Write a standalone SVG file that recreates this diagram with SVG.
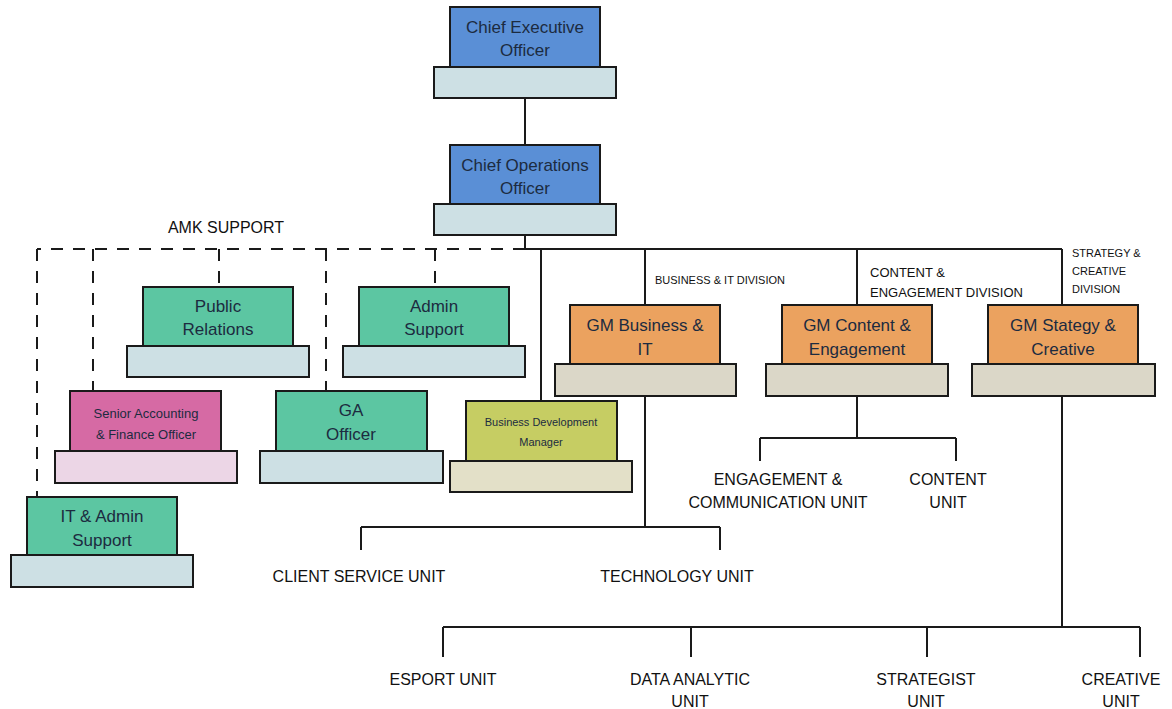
<svg xmlns="http://www.w3.org/2000/svg" width="1172" height="709" viewBox="0 0 1172 709">
<style>
.top{stroke:#1a1a1a;stroke-width:2}
.base{stroke:#1a1a1a;stroke-width:2}
.blue{fill:#5a8fd6}
.green{fill:#5cc6a2}
.orange{fill:#eba25f}
.pink{fill:#d66aa4}
.olive{fill:#c6cd63}
.lb{fill:#cde0e4}
.bg{fill:#dbd7c8}
.lp{fill:#ecd6e6}
.lo{fill:#e3e0c8}
.t{font-family:"Liberation Sans",Arial,sans-serif;font-size:17px;fill:#1c2b40;text-anchor:middle}
.ts{font-family:"Liberation Sans",Arial,sans-serif;font-size:13px;fill:#1c2b40;text-anchor:middle}
.tx{font-family:"Liberation Sans",Arial,sans-serif;font-size:11px;fill:#1c2b40;text-anchor:middle}
.l{font-family:"Liberation Sans",Arial,sans-serif;font-size:16px;fill:#111;text-anchor:middle}
.d{font-family:"Liberation Sans",Arial,sans-serif;font-size:11px;fill:#111}
.d2{font-family:"Liberation Sans",Arial,sans-serif;font-size:13px;fill:#111}
.c{stroke:#1a1a1a;stroke-width:2;fill:none}
.dash{stroke:#1a1a1a;stroke-width:2;fill:none;stroke-dasharray:12 10}
</style>
<rect width="1172" height="709" fill="#ffffff"/>
<g id="connectors">
<path class="c" d="M525 98V145M525 235V249M525 249H1062M645 249V305M857 249V305M1062 249V305M541 249V401"/>
<path class="dash" d="M525 249H37M37 249V497M93 249V391M219 249V287M326 249V391M435 249V287"/>
<path class="c" d="M645 396V527M361 527H720M361 527V550M720 527V550"/>
<path class="c" d="M857 396V438M760 438H956M760 438V461M956 438V461"/>
<path class="c" d="M1062 396V627M443 627H1140M443 627V657M691 627V657M927 627V657M1140 627V657"/>
</g>
<g id="labels">
<text class="l" x="226" y="233">AMK SUPPORT</text>
<text class="d" x="655" y="284">BUSINESS &amp; IT DIVISION</text>
<text class="d2" x="870" y="277">CONTENT &amp;</text>
<text class="d2" x="870" y="297">ENGAGEMENT DIVISION</text>
<text class="d" x="1072" y="257">STRATEGY &amp;</text>
<text class="d" x="1072" y="275">CREATIVE</text>
<text class="d" x="1072" y="293">DIVISION</text>
</g>
<g id="ceo">
<rect class="top blue" x="450" y="7" width="150" height="60"/>
<rect class="base lb" x="434" y="67" width="182" height="31"/>
<text class="t" x="525" y="33">Chief Executive</text>
<text class="t" x="525" y="56">Officer</text>
</g>
<g id="coo">
<rect class="top blue" x="450" y="145" width="150" height="59"/>
<rect class="base lb" x="434" y="204" width="182" height="31"/>
<text class="t" x="525" y="171">Chief Operations</text>
<text class="t" x="525" y="194">Officer</text>
</g>
<g id="public-relations">
<rect class="top green" x="143" y="287" width="150" height="59"/>
<rect class="base lb" x="127" y="346" width="182" height="31"/>
<text class="t" x="218" y="312">Public</text>
<text class="t" x="218" y="335">Relations</text>
</g>
<g id="admin-support">
<rect class="top green" x="359" y="287" width="150" height="59"/>
<rect class="base lb" x="343" y="346" width="182" height="31"/>
<text class="t" x="434" y="312">Admin</text>
<text class="t" x="434" y="335">Support</text>
</g>
<g id="senior-accounting">
<rect class="top pink" x="70" y="391" width="151" height="60"/>
<rect class="base lp" x="55" y="451" width="182" height="32"/>
<text class="ts" x="146" y="418">Senior Accounting</text>
<text class="ts" x="146" y="439">&amp; Finance Officer</text>
</g>
<g id="ga-officer">
<rect class="top green" x="276" y="391" width="151" height="60"/>
<rect class="base lb" x="260" y="451" width="183" height="32"/>
<text class="t" x="351" y="416">GA</text>
<text class="t" x="351" y="440">Officer</text>
</g>
<g id="business-development">
<rect class="top olive" x="466" y="401" width="151" height="60"/>
<rect class="base lo" x="450" y="461" width="182" height="31"/>
<text class="tx" x="541" y="426">Business Development</text>
<text class="tx" x="541" y="446">Manager</text>
</g>
<g id="it-admin">
<rect class="top green" x="27" y="497" width="150" height="58"/>
<rect class="base lb" x="11" y="555" width="182" height="32"/>
<text class="t" x="102" y="522">IT &amp; Admin</text>
<text class="t" x="102" y="546">Support</text>
</g>
<g id="gm-business">
<rect class="top orange" x="570" y="305" width="150" height="59"/>
<rect class="base bg" x="555" y="364" width="181" height="32"/>
<text class="t" x="645" y="331">GM Business &amp;</text>
<text class="t" x="645" y="355">IT</text>
</g>
<g id="gm-content">
<rect class="top orange" x="782" y="305" width="150" height="59"/>
<rect class="base bg" x="766" y="364" width="182" height="32"/>
<text class="t" x="857" y="331">GM Content &amp;</text>
<text class="t" x="857" y="355">Engagement</text>
</g>
<g id="gm-strategy">
<rect class="top orange" x="988" y="305" width="150" height="59"/>
<rect class="base bg" x="972" y="364" width="183" height="32"/>
<text class="t" x="1063" y="331">GM Stategy &amp;</text>
<text class="t" x="1063" y="355">Creative</text>
</g>
<g id="units">
<text class="l" x="359" y="582">CLIENT SERVICE UNIT</text>
<text class="l" x="677" y="582">TECHNOLOGY UNIT</text>
<text class="l" x="778" y="485">ENGAGEMENT &amp;</text>
<text class="l" x="778" y="508">COMMUNICATION UNIT</text>
<text class="l" x="948" y="485">CONTENT</text>
<text class="l" x="948" y="508">UNIT</text>
<text class="l" x="443" y="685">ESPORT UNIT</text>
<text class="l" x="690" y="685">DATA ANALYTIC</text>
<text class="l" x="690" y="707">UNIT</text>
<text class="l" x="926" y="685">STRATEGIST</text>
<text class="l" x="926" y="707">UNIT</text>
<text class="l" x="1121" y="685">CREATIVE</text>
<text class="l" x="1121" y="707">UNIT</text>
</g>
</svg>
